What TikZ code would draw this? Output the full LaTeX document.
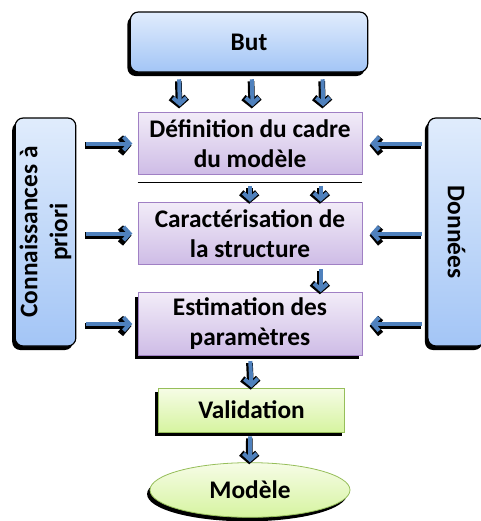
\documentclass[tikz,border=0pt]{standalone}
\usepackage{fontspec}
\setmainfont{Carlito}
\usetikzlibrary{arrows.meta,shadows,shapes.geometric}

\definecolor{arrowblue}{RGB}{79,129,189}
\definecolor{bluetop}{RGB}{224,236,252}
\definecolor{bluebot}{RGB}{163,197,246}
\definecolor{mauvetop}{RGB}{242,236,248}
\definecolor{mauvebot}{RGB}{206,188,230}
\definecolor{mauveline}{RGB}{160,128,196}
\definecolor{greentop}{RGB}{246,252,230}
\definecolor{greenbot}{RGB}{214,244,160}
\definecolor{greenline}{RGB}{150,190,90}

\begin{document}
\begin{tikzpicture}[x=0.75pt,y=0.75pt,yscale=-1,xscale=1,
  every node/.style={font=\fontsize{19}{22.5}\selectfont\bfseries, align=center},
  blackshadow/.style={drop shadow={shadow xshift=-2.2pt, shadow yshift=-3pt, fill=black, opacity=1}},
  bluebox/.style={rectangle, rounded corners=6pt, draw=black, line width=0.9pt, top color=bluetop, bottom color=bluebot, blackshadow},
  stagebox/.style={rectangle, draw=mauveline, line width=0.6pt, top color=mauvetop, bottom color=mauvebot, minimum width=168pt, minimum height=47pt},
  checkbox/.style={draw=greenline, line width=0.6pt, top color=greentop, bottom color=greenbot, blackshadow},
  flowarrow/.style={draw=arrowblue, line width=3pt, -{Straight Barb[length=4.5pt,width=10pt]},
    preaction={draw=black, line width=5pt, -{Straight Barb[length=5pt,width=12pt]}, transform canvas={shift={(-0.6pt,-1.5pt)}}}}
]
	\clip (0,0) rectangle (481,521);

	% Boxes
	\node[bluebox, minimum width=178pt, minimum height=45pt] (but) at (249,42) {But};
	\node[stagebox] (defn) at (250,143.5) {Définition du cadre\\du modèle};
	\node[stagebox] (carac) at (250,233.5) {Caractérisation de\\la structure};
	\node[stagebox, blackshadow] (estim) at (250,324) {Estimation des\\paramètres};
	\node[checkbox, rectangle, minimum width=140pt, minimum height=33pt] (valid) at (251.5,410) {Validation};
	\node[checkbox, ellipse, minimum width=150pt, minimum height=41pt] (model) at (250,490) {Modèle};

	% Side boxes
	\node[bluebox, rotate=90, minimum width=171pt, minimum height=43pt] (know) at (45.5,232) {Connaissances à\\priori};
	\node[bluebox, rotate=-90, minimum width=171pt, minimum height=43pt] (data) at (456.5,232) {Données};

	% Line under the first stage
	\draw[line width=0.5pt] ([yshift=5pt]defn.south west) -- ([yshift=5pt]defn.south east);

	% Vertical arrows
	\foreach \dx in {-52.5,2,55} {
		\draw[flowarrow, shorten <=5pt, shorten >=4pt] ([xshift=\dx pt]but.south) -- ([xshift=\dx pt]defn.north);
	}
	\foreach \dx in {0,53} {
		\draw[flowarrow, shorten <=8pt] ([xshift=\dx pt]defn.south) -- ([xshift=\dx pt]carac.north);
	}
	\draw[flowarrow, shorten <=3pt] ([xshift=53pt]carac.south) -- ([xshift=53pt]estim.north);
	\draw[flowarrow, shorten <=4pt] (estim.south) -- (valid.north);
	\draw[flowarrow, shorten <=3pt] ([xshift=-1pt]valid.south) -- (model.north);

	% Horizontal arrows
	\foreach \stage in {defn,carac,estim} {
		\draw[flowarrow, shorten <=7pt, shorten >=4pt] (know.south |- \stage.west) -- (\stage.west);
		\draw[flowarrow, shorten <=4pt, shorten >=6pt] (data.south |- \stage.east) -- (\stage.east);
	}
\end{tikzpicture}
\end{document}
